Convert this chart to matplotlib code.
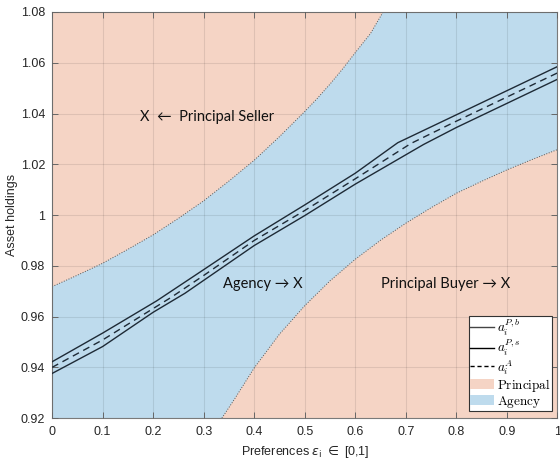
import numpy as np
import matplotlib
matplotlib.use('Agg')
import matplotlib.pyplot as plt
from matplotlib.patches import Patch
from matplotlib.lines import Line2D
from matplotlib.font_manager import FontProperties
from matplotlib.ticker import MultipleLocator, FormatStrFormatter

# asset holdings under principal buyer / principal seller / agency
eps_pb = [0, 0.1, 0.207, 0.3, 0.4, 0.5, 0.6, 0.684, 0.8, 0.9, 1.0]
a_pb = [0.9422, 0.9535, 0.9662, 0.9785, 0.9918, 1.0040, 1.0165, 1.0285, 1.0395, 1.0490, 1.0585]
eps_ps = [0, 0.1, 0.2, 0.263, 0.4, 0.5, 0.6, 0.735, 0.8, 0.9, 1.0]
a_ps = [0.9376, 0.9482, 0.9617, 0.9692, 0.9880, 0.9998, 1.0122, 1.0278, 1.0345, 1.0440, 1.0535]
eps_ag = [0, 0.1, 0.235, 0.3, 0.4, 0.5, 0.6, 0.71, 0.8, 0.9, 1.0]
a_ag = [0.9400, 0.9508, 0.9675, 0.9762, 0.9900, 1.0018, 1.0143, 1.0282, 1.0370, 1.0465, 1.0560]

# boundaries of the agency region
eps_hi = [0, 0.05, 0.1, 0.15, 0.2, 0.25, 0.3, 0.35, 0.4, 0.45, 0.5,
          0.525, 0.55, 0.575, 0.6, 0.63, 0.655]
bnd_hi = [0.9718, 0.9763, 0.9810, 0.9865, 0.9922, 0.9987, 1.0056, 1.0134, 1.0216, 1.0309, 1.0408,
          1.0460, 1.0516, 1.0576, 1.0640, 1.0715, 1.0800]
eps_lo = [0.336, 0.36, 0.4, 0.45, 0.5, 0.55, 0.6, 0.65, 0.7, 0.75, 0.8, 0.85, 0.9, 0.95, 1.0]
bnd_lo = [0.9200, 0.9272, 0.9398, 0.9531, 0.9643, 0.9741, 0.9826, 0.9901, 0.9968, 1.0029,
          1.0086, 1.0133, 1.0178, 1.0219, 1.0258]

xlim = (0, 1)
ylim = (0.92, 1.08)

c_princ = '#f5d4c5'
c_agency = '#bedbed'
c_line = '#1e2a36'

fig = plt.figure(figsize=(5.6, 4.61), dpi=100)
ax = fig.add_axes([0.093, 0.093, 0.9025, 0.881])
ax.set_facecolor(c_princ)

# agency region: upper boundary, top edge, lower boundary, bottom edge
px = np.concatenate([[xlim[0]], eps_hi, [xlim[1]], eps_lo[::-1]])
py = np.concatenate([[ylim[0]], bnd_hi, [ylim[1]], bnd_lo[::-1]])
ax.fill(px, py, color=c_agency, lw=0, zorder=1)
ax.plot(eps_hi, bnd_hi, ':', color='#555555', lw=0.7, zorder=1.5)
ax.plot(eps_lo, bnd_lo, ':', color='#555555', lw=0.7, zorder=1.5)

ax.plot(eps_pb, a_pb, '-', color=c_line, lw=1.0, zorder=3)
ax.plot(eps_ps, a_ps, '-', color=c_line, lw=1.0, zorder=3)
ax.plot(eps_ag, a_ag, color=c_line, lw=1.0, dashes=(5, 3.5), zorder=3)

ax.set_xlim(*xlim)
ax.set_ylim(*ylim)
ax.xaxis.set_major_locator(MultipleLocator(0.1))
ax.yaxis.set_major_locator(MultipleLocator(0.02))
ax.xaxis.set_major_formatter(FormatStrFormatter('%g'))
ax.yaxis.set_major_formatter(FormatStrFormatter('%g'))
ax.grid(True, color='k', alpha=0.09, lw=0.8)
ax.set_axisbelow(False)
ax.tick_params(direction='in', length=4, width=0.7, color='#666666',
               top=True, right=True, labelsize=9, labelcolor='#262626')
ax.tick_params(axis='x', pad=6)
ax.tick_params(axis='y', pad=5)
for sp in ax.spines.values():
    sp.set_color('#7a7a7a')
    sp.set_linewidth(0.8)
for lab in ax.get_xticklabels() + ax.get_yticklabels():
    lab.set_family('Liberation Sans')

ax.set_xlabel('Preferences $\\epsilon_{\\mathrm{i}}\\;\\in$ [0,1]', fontsize=9,
              family='Liberation Sans', color='#262626', labelpad=3)
ax.set_ylabel('Asset holdings', fontsize=9, family='Liberation Sans',
              color='#262626', labelpad=2)

ann_font = ['Lato', 'DejaVu Sans']
ax.text(0.174, 1.0386, 'X  \u2190  Principal Seller', fontsize=10.5, family=ann_font,
        va='center', ha='left', color='#111111')
ax.text(0.339, 0.9728, 'Agency \u2192 X', fontsize=10.5, family=ann_font,
        va='center', ha='left', color='#111111')
ax.text(0.6515, 0.9728, 'Principal Buyer \u2192 X', fontsize=10.5, family=ann_font,
        va='center', ha='left', color='#111111')

handles = [
    Line2D([], [], color='#444444', lw=1.0),
    Line2D([], [], color='k', lw=1.0),
    Line2D([], [], color='k', lw=1.0, dashes=(3, 2)),
    Patch(facecolor=c_princ, edgecolor='none'),
    Patch(facecolor=c_agency, edgecolor='none'),
]
labels = ['$a_i^{P,b}$', '$a_i^{P,s}$', '$a_i^{A}$',
          '$\\mathrm{Principal}$', '$\\mathrm{Agency}$']
leg = ax.legend(handles, labels, loc='lower right', bbox_to_anchor=(0.989, 0.017),
                prop=FontProperties(family='serif', size=9.5, math_fontfamily='cm'),
                fancybox=False, framealpha=1, edgecolor='#333333',
                handlelength=1.8, handleheight=0.8, handletextpad=0.2,
                labelspacing=0.0, borderpad=0.12, borderaxespad=0)
leg.get_frame().set_linewidth(0.8)
leg.set_zorder(5)

fig.savefig('out.png', dpi=100)
